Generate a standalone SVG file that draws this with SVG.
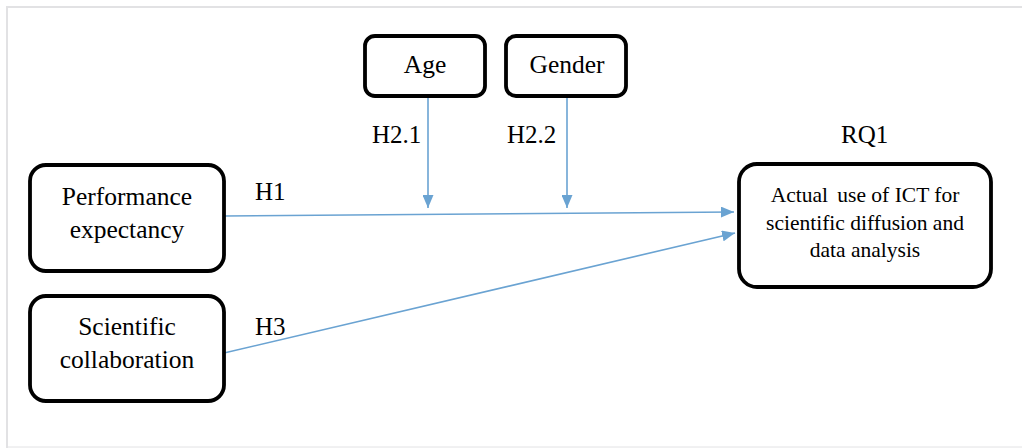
<svg xmlns="http://www.w3.org/2000/svg" width="1022" height="448" viewBox="0 0 1022 448">
<style>
.box{fill:#fff;stroke:#000;stroke-width:3.8}
text{font-family:'Liberation Serif','Times New Roman',serif;fill:#000}
.t{font-size:25.5px;text-anchor:middle}
.s{font-size:21.5px;text-anchor:middle}
.l{font-size:25px}
.c{stroke:#6aa3d2;stroke-width:1.6;fill:none}
</style>
<defs>
<marker id="ah" viewBox="0 0 13 11" refX="13" refY="5.5" markerWidth="13" markerHeight="11" markerUnits="userSpaceOnUse" orient="auto">
<path d="M0,0 L13,5.5 L0,11 z" fill="#6aa3d2"/>
</marker>
</defs>
<rect width="1022" height="448" fill="#fff"/>
<g id="frame" fill="none" stroke="#e2e2e4" stroke-width="2">
<path d="M7,448 L7,7 L1022,7"/>
<path d="M7,447 L1022,447" stroke-width="1"/>
</g>
<g id="connectors">
<line class="c" x1="428" y1="97" x2="428" y2="208" marker-end="url(#ah)"/>
<line class="c" x1="567" y1="97" x2="567" y2="208" marker-end="url(#ah)"/>
<line class="c" x1="224" y1="216" x2="734" y2="212" marker-end="url(#ah)"/>
<line class="c" x1="224" y1="353" x2="735" y2="233" marker-end="url(#ah)"/>
</g>
<g id="labels">
<text class="l" x="372" y="143">H2.1</text>
<text class="l" x="507" y="143">H2.2</text>
<text class="l" x="255" y="200">H1</text>
<text class="l" x="255" y="335">H3</text>
<text class="l" x="841" y="143" font-size="24">RQ1</text>
</g>
<g id="age">
<rect class="box" x="365" y="36" width="120" height="60" rx="10"/>
<text class="t" x="425" y="73">Age</text>
</g>
<g id="gender">
<rect class="box" x="506" y="36" width="120" height="60" rx="10"/>
<text class="t" x="567" y="73">Gender</text>
</g>
<g id="performance">
<rect class="box" x="30" y="165" width="194" height="106" rx="16"/>
<text class="t" x="127" y="205">Performance</text>
<text class="t" x="127" y="238">expectancy</text>
</g>
<g id="scientific">
<rect class="box" x="30" y="296" width="194" height="105" rx="16"/>
<text class="t" x="127" y="335">Scientific</text>
<text class="t" x="127" y="368">collaboration</text>
</g>
<g id="actual">
<rect class="box" x="739" y="164" width="252" height="123" rx="18"/>
<text class="s" x="865" y="202">Actual<tspan dx="4"> use of ICT for</tspan></text>
<text class="s" x="865" y="230">scientific diffusion and</text>
<text class="s" x="865" y="257">data analysis</text>
</g>
</svg>
